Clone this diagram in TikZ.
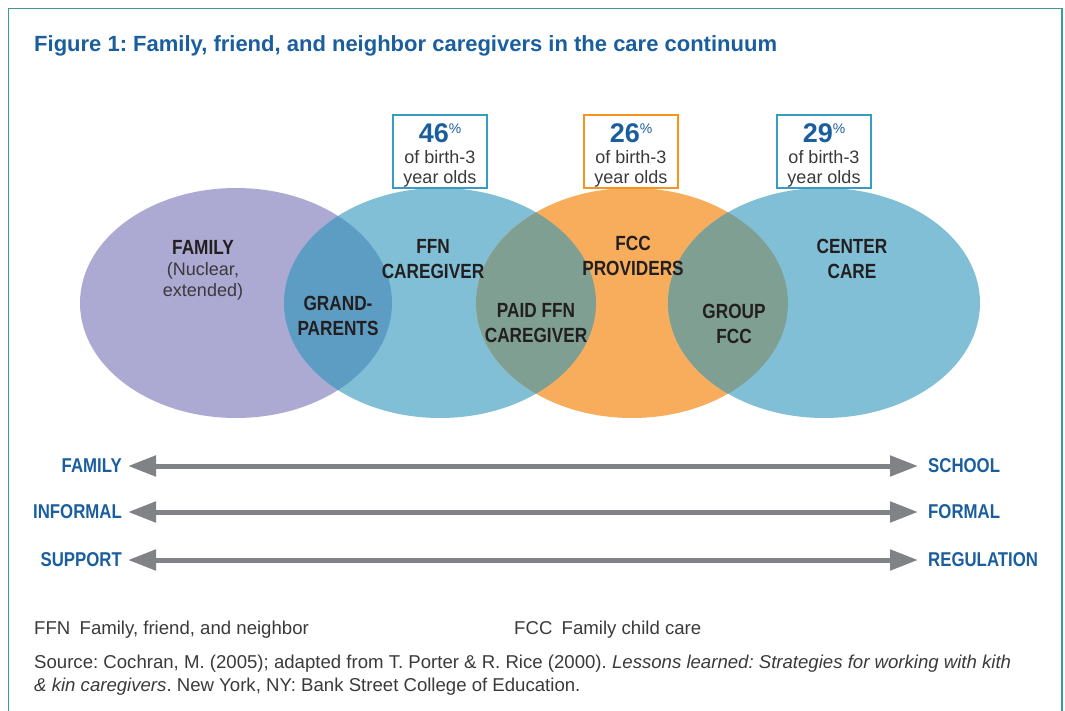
\documentclass[tikz,border=0pt]{standalone}
\usepackage{fontspec}
\setmainfont{Liberation Sans}
\newfontfamily\condfont[FakeStretch=0.84]{Liberation Sans}
\usetikzlibrary{arrows.meta}
\definecolor{frameteal}{HTML}{3D9A99}
\definecolor{titleblue}{HTML}{1A5E9E}
\definecolor{famviolet}{HTML}{ACA9D3}
\definecolor{careblue}{HTML}{80BFD6}
\definecolor{fccorange}{HTML}{F8AD5C}
\definecolor{grandblue}{HTML}{5E9DC3}
\definecolor{paidgreen}{HTML}{7F9F92}
\definecolor{boxblue}{HTML}{3B9AC1}
\definecolor{boxorange}{HTML}{F7941D}
\definecolor{scalegray}{HTML}{808285}
\definecolor{labelink}{HTML}{231F20}
\definecolor{noteink}{HTML}{3A3A3A}
\frenchspacing

\tikzset{
  circlelab/.style={font=\condfont\bfseries\fontsize{20.5}{25}\selectfont,
    text=labelink, align=center, inner sep=0pt},
  sublab/.style={font=\fontsize{18}{21}\selectfont, text=noteink,
    align=center, inner sep=0pt},
  pctbox/.style={line width=2pt, fill=white, minimum width=94pt,
    minimum height=73pt, inner sep=0pt, align=center, text=noteink,
    font=\fontsize{18}{20.5}\selectfont},
  scalelab/.style={font=\condfont\bfseries\fontsize{20}{20}\selectfont,
    text=titleblue, inner sep=0pt},
  scalearrow/.style={draw=scalegray, line width=5pt,
    {Triangle[length=28pt,width=20pt]}-{Triangle[length=28pt,width=20pt]},
    shorten <=6pt, shorten >=10pt},
  note/.style={font=\fontsize{18.6}{23}\selectfont, text=noteink,
    inner sep=0pt, anchor=base west}
}
\newcommand{\pctnum}[1]{{\color{titleblue}\fontsize{27}{27}\selectfont
  \bfseries\rule{0pt}{27pt}#1\raisebox{9pt}{\fontsize{14}{14}\mdseries\selectfont\%}}}
\newcommand{\venn}[1]{(#1) ellipse [x radius=156pt, y radius=115pt]}

\begin{document}
\begin{tikzpicture}[x=1pt,y=-1pt]
  \useasboundingbox (0,0) rectangle (1065,711);
  \draw[frameteal, line width=1.5pt] (8.5,730) -- (8.5,8.5) -- (1062,8.5) -- (1062,730);

  \node[anchor=base west, inner sep=0pt, text=titleblue,
    font=\bfseries\fontsize{22}{22}\selectfont] (title) at (34,52)
    {Figure 1: Family, friend, and neighbor caregivers in the care continuum};

  % circles of the continuum
  \coordinate (famc) at (236,303);
  \coordinate (ffnc) at (440,303);
  \coordinate (fccc) at (632,303);
  \coordinate (ctrc) at (824,303);
  \fill[famviolet] \venn{famc};
  \fill[careblue] \venn{ffnc};
  \fill[fccorange] \venn{fccc};
  \fill[careblue] \venn{ctrc};
  \begin{scope}
    \clip \venn{famc};
    \fill[grandblue] \venn{ffnc};
  \end{scope}
  \begin{scope}
    \clip \venn{fccc};
    \fill[paidgreen] \venn{ffnc};
    \fill[paidgreen] \venn{ctrc};
  \end{scope}

  \node[circlelab] (family) at (203,247) {FAMILY};
  \node[sublab] (familysub) at (203,281.5) {(Nuclear,\\extended)};
  \node[circlelab] (ffn) at (433,259) {FFN\\CAREGIVER};
  \node[circlelab] (grand) at (338,316) {GRAND-\\PARENTS};
  \node[circlelab] (paid) at (536,323) {PAID FFN\\CAREGIVER};
  \node[circlelab] (fcc) at (633,255.5) {FCC\\PROVIDERS};
  \node[circlelab] (group) at (734,324) {GROUP\\FCC};
  \node[circlelab] (center) at (852,259) {CENTER\\CARE};

  % shares of birth-3 year olds
  \node[pctbox, draw=boxblue] (ffnpct) at (440,151.5) {\pctnum{46}\\of birth-3\\year olds};
  \node[pctbox, draw=boxorange] (fccpct) at (631,151.5) {\pctnum{26}\\of birth-3\\year olds};
  \node[pctbox, draw=boxblue] (ctrpct) at (824,151.5) {\pctnum{29}\\of birth-3\\year olds};

  % continuum scales
  \node[scalelab, anchor=east] (lfamily) at (122,466) {FAMILY};
  \node[scalelab, anchor=west] (rschool) at (928,466) {SCHOOL};
  \node[scalelab, anchor=east] (linformal) at (122,512) {INFORMAL};
  \node[scalelab, anchor=west] (rformal) at (928,512) {FORMAL};
  \node[scalelab, anchor=east] (lsupport) at (122,560) {SUPPORT};
  \node[scalelab, anchor=west] (rregulation) at (928,560) {REGULATION};
  \draw[scalearrow] (lfamily.east) -- (rschool.west);
  \draw[scalearrow] (linformal.east) -- (rformal.west);
  \draw[scalearrow] (lsupport.east) -- (rregulation.west);

  % key and source
  \node[note] (ffnkey) at (34,634) {FFN\enspace Family, friend, and neighbor};
  \node[note] (fcckey) at (514,634) {FCC\enspace Family child care};
  \node[note] (source1) at (34,668) {Source: Cochran, M. (2005); adapted from T. Porter \& R. Rice (2000). \textit{Lessons learned: Strategies for working with kith}};
  \node[note] (source2) at (34,691) {\textit{\& kin caregivers}. New York, NY: Bank Street College of Education.};
\end{tikzpicture}
\end{document}
